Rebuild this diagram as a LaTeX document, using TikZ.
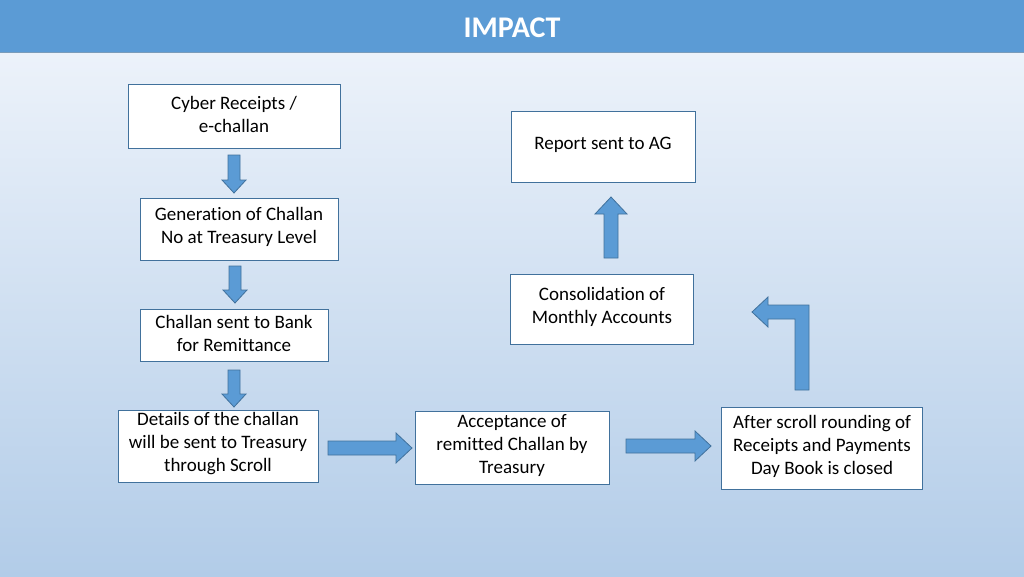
\documentclass[tikz,border=0pt]{standalone}
\usepackage{fontspec}
\setmainfont[Ligatures=NoCommon]{Carlito}
\usetikzlibrary{shapes.arrows}
\definecolor{hdr}{HTML}{5B9BD5}
\definecolor{bord}{HTML}{41719C}
\definecolor{bgtop}{HTML}{F2F6FC}
\definecolor{bgbot}{HTML}{B2CCE8}
\tikzset{
  box/.style={draw=bord, line width=0.8pt, fill=white, align=center, font=\fontsize{19}{23}\selectfont, inner sep=0pt},
  blk/.style={fill=hdr, draw=bord, line width=0.8pt}
}
\begin{document}
\begin{tikzpicture}[x=1pt,y=-1pt]
\useasboundingbox (0,0) rectangle (1024,576);
\shade[top color=bgtop, bottom color=bgbot] (0,0) rectangle (1024,576);
\fill[hdr] (0,0) rectangle (1024,52);
\draw[bord!70, line width=0.6pt] (0,52) -- (1024,52);
\node[text=white, font=\fontsize{30}{32}\selectfont\bfseries] (title) at (512,28) {IMPACT};
\node[box, minimum width=212pt, minimum height=64pt] (b1) at (234,116) {};
\node[box, minimum width=198pt, minimum height=62pt] (b2) at (239,229) {};
\node[box, minimum width=188pt, minimum height=52pt] (b3) at (234,335) {};
\node[box, minimum width=200pt, minimum height=72pt] (b4) at (218,446) {};
\node[box, minimum width=194pt, minimum height=73pt] (b5) at (512,448) {};
\node[box, minimum width=201pt, minimum height=82pt] (b6) at (822,448) {};
\node[box, minimum width=183pt, minimum height=70pt] (b7) at (602,309) {};
\node[box, minimum width=184pt, minimum height=71pt] (b8) at (603,147) {};
\tikzset{lbl/.style={align=center, font=\fontsize{19}{23}\selectfont, inner sep=0pt}}
\node[lbl] (t1) at ([yshift=2pt]b1.center) {Cyber Receipts /\\e-challan};
\node[lbl] (t2) at ([yshift=2pt]b2.center) {Generation of Challan\\No at Treasury Level};
\node[lbl] (t3) at ([yshift=2pt]b3.center) {Challan sent to Bank\\for Remittance};
\node[lbl] (t4) at ([yshift=2pt]b4.center) {Details of the challan\\will be sent to Treasury\\through Scroll};
\node[lbl] (t5) at ([yshift=2pt]b5.center) {Acceptance of\\remitted Challan by\\Treasury};
\node[lbl] (t6) at ([yshift=2pt]b6.center) {After scroll rounding of\\Receipts and Payments\\Day Book is closed};
\node[lbl] (t7) at ([yshift=2pt]b7.center) {Consolidation of\\Monthly Accounts};
\node[lbl] (t8) at ([yshift=2pt]b8.center) {Report sent to AG};
% down arrows
\foreach \x/\ya/\yb in {234/155/193, 235/266/303, 234/370/407}{
  \draw[blk] (\x-6,\ya) -- (\x+6,\ya) -- (\x+6,\yb-13) -- (\x+12,\yb-13) -- (\x,\yb) -- (\x-12,\yb-13) -- (\x-6,\yb-13) -- cycle;
}
% right arrows
\foreach \xa/\xb/\y in {328/412/448, 626/711/446}{
  \draw[blk] (\xa,\y-7) -- (\xb-16,\y-7) -- (\xb-16,\y-15) -- (\xb,\y) -- (\xb-16,\y+15) -- (\xb-16,\y+7) -- (\xa,\y+7) -- cycle;
}
% up arrow
\draw[blk] (604,258) -- (618,258) -- (618,214) -- (627,214) -- (611,197) -- (595,214) -- (604,214) -- cycle;
% bent arrow
\draw[blk] (795,390) -- (809,390) -- (809,305) -- (768,305) -- (768,297) -- (752,312) -- (768,327) -- (768,319) -- (795,319) -- cycle;
\end{tikzpicture}
\end{document}
